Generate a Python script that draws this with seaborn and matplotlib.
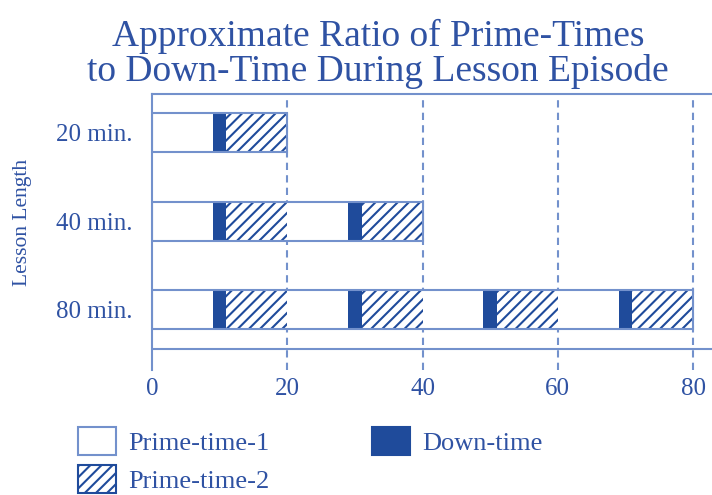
import matplotlib
matplotlib.use('Agg')
import matplotlib.pyplot as plt
from matplotlib.patches import Patch
import seaborn as sns
import pandas as pd

# data
lessons = ['20 min.', '40 min.', '80 min.']
lesson_minutes = [20, 40, 80]
block_minutes = 20
segment_names = ['Prime-time-1', 'Down-time', 'Prime-time-2']
segment_minutes = [9, 2, 9]
x_ticks = [0, 20, 40, 60, 80]

title = 'Approximate Ratio of Prime-Times\nto Down-Time During Lesson Episode'

dark = '#1f4b9b'
line = '#7391cc'
text_col = '#2f52a3'

sns.set_theme(style='white')
plt.rcParams['font.family'] = ['Liberation Serif', 'DejaVu Serif']
plt.rcParams['hatch.linewidth'] = 1.5

# build one row per drawn segment
rows = []
for lesson, total in zip(lessons, lesson_minutes):
    for b in range(total // block_minutes):
        start = b * block_minutes
        for name, width in zip(segment_names, segment_minutes):
            rows.append({'lesson': lesson, 'segment': name, 'start': start, 'width': width})
            start += width
segs = pd.DataFrame(rows)

styles = {
    'Prime-time-1': dict(facecolor='white', edgecolor='white', hatch=None),
    'Down-time': dict(facecolor=dark, edgecolor=dark, hatch=None),
    'Prime-time-2': dict(facecolor='white', edgecolor=dark, hatch='///'),
}

fig = plt.figure(figsize=(7.12, 4.95), dpi=100)
ax = fig.add_axes([152 / 712, 1 - 370 / 495, 1 - 152 / 712, 276 / 495])

ypos = {l: i for i, l in enumerate(lessons)}
bar_h = 0.44

for x in x_ticks[1:]:
    ax.axvline(x, color=line, lw=1.5, ls=(0, (3.5, 2.5)), zorder=1)

for _, r in segs.iterrows():
    st = styles[r['segment']]
    ax.barh(ypos[r['lesson']], r['width'], left=r['start'], height=bar_h,
            facecolor=st['facecolor'], edgecolor=st['edgecolor'], hatch=st['hatch'],
            lw=0, zorder=2)

# outline of each lesson bar
for lesson, total in zip(lessons, lesson_minutes):
    ax.barh(ypos[lesson], total, left=0, height=bar_h, facecolor='none',
            edgecolor=line, lw=1.5, zorder=3)

ax.axhline(2.44, color=line, lw=1.5, zorder=1)

ax.set_xlim(0, 82.8)
ax.set_ylim(2.68, -0.44)
ax.set_yticks(range(len(lessons)))
ax.set_yticklabels(lessons)
ax.set_xticks(x_ticks)
ax.tick_params(axis='both', length=0, labelsize=18, labelcolor=text_col)
ax.tick_params(axis='y', pad=14)
ax.tick_params(axis='x', pad=6)

for side in ['right', 'bottom']:
    ax.spines[side].set_visible(False)
for side in ['left', 'top']:
    ax.spines[side].set_color(line)
    ax.spines[side].set_linewidth(1.5)

ax.set_ylabel('Lesson Length', fontsize=15.5, color=text_col)
ax.yaxis.set_label_coords(-0.215, 0.536)

fig.text(378 / 712, 1 - 19 / 495, title, ha='center', va='top',
         fontsize=27, color=text_col, linespacing=1.0)

handles = [
    Patch(facecolor='white', edgecolor=line, lw=1.5, label='Prime-time-1'),
    Patch(facecolor='white', edgecolor=dark, hatch='///', lw=1.5, label='Prime-time-2'),
    Patch(facecolor=dark, edgecolor=dark, lw=1.5, label='Down-time'),
]
fig.legend(handles=handles, loc='upper left', bbox_to_anchor=(78 / 712, 1 - 427 / 495),
           ncol=2, frameon=False, fontsize=19, labelcolor=text_col,
           handlelength=1.44, handleheight=1.25, handletextpad=0.45,
           columnspacing=3.9, labelspacing=0.38, borderpad=0, borderaxespad=0)

fig.savefig('out.png', dpi=100)
